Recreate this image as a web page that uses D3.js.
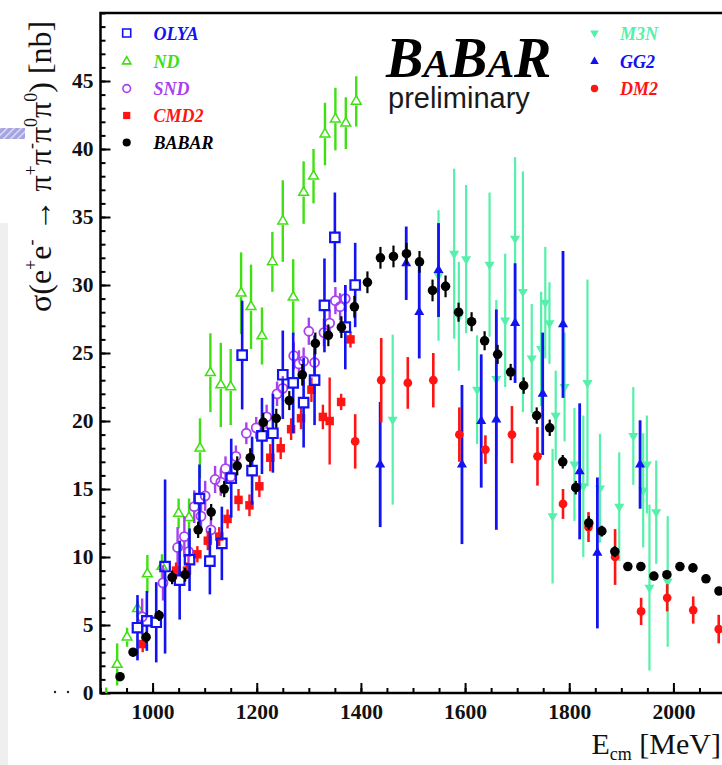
<!DOCTYPE html>
<html><head><meta charset="utf-8">
<script src="https://cdn.jsdelivr.net/npm/d3@7"></script>
<style>html,body{margin:0;padding:0;background:#fff;overflow:hidden}</style>
</head><body>
<svg id="c" width="722" height="765"></svg>
<script>
// e+e- -> pi+ pi- pi0 pi0 cross section measurements, E in MeV, sigma in nb
const babarE = [937.5, 962.5, 987.5, 1012.5, 1037.5, 1062.5, 1087.5, 1112.5, 1137.5, 1162.5, 1187.5, 1212.5, 1237.5, 1262.5, 1287.5, 1312.5, 1337.5, 1362.5, 1387.5, 1412.5, 1437.5, 1462.5, 1487.5, 1512.5, 1537.5, 1562.5, 1587.5, 1612.5, 1637.5, 1662.5, 1687.5, 1712.5, 1737.5, 1762.5, 1787.5, 1812.5, 1837.5, 1862.5, 1887.5, 1912.5, 1937.5, 1962.5, 1987.5, 2012.5, 2037.5, 2062.5, 2087.5];
const babarSigma = [1.2, 3.0, 4.1, 5.7, 8.5, 8.7, 12.0, 13.3, 15.0, 16.7, 17.3, 19.9, 20.2, 21.5, 23.4, 25.7, 26.3, 26.9, 28.4, 30.2, 32.0, 32.1, 32.3, 31.7, 29.6, 29.9, 28.0, 27.3, 25.9, 24.9, 23.6, 22.6, 20.4, 19.5, 17.0, 15.1, 12.5, 11.9, 10.4, 9.3, 9.3, 8.6, 8.7, 9.3, 9.2, 8.4, 7.5];
const babarErr = [0.3, 0.3, 0.4, 0.4, 0.5, 0.5, 0.6, 0.6, 0.6, 0.7, 0.7, 0.7, 0.7, 0.7, 0.8, 0.8, 0.8, 0.8, 0.8, 0.8, 0.8, 0.8, 0.8, 0.8, 0.8, 0.8, 0.7, 0.7, 0.7, 0.7, 0.6, 0.6, 0.6, 0.6, 0.5, 0.5, 0.5, 0.4, 0.4, 0.3, 0.3, 0.3, 0.3, 0.3, 0.3, 0.3, 0.3];

const cmd2E = [981, 1045, 1066, 1086, 1106, 1128, 1144, 1165, 1186, 1205, 1226, 1246, 1266, 1285, 1305, 1327, 1340, 1362, 1380];
const cmd2Sigma = [3.6, 9.0, 9.0, 10.2, 11.2, 11.5, 12.8, 14.2, 13.8, 15.2, 17.3, 18.0, 19.4, 20.2, 22.3, 20.3, 20.0, 21.4, 26.0];
const cmd2Err = [0.6, 0.6, 0.6, 0.6, 0.7, 0.7, 0.7, 0.8, 0.8, 0.8, 1.0, 0.8, 0.8, 0.8, 0.9, 0.9, 3.2, 0.6, 0.6];

const dm2E = [1389, 1439, 1490, 1539, 1589, 1639, 1690, 1739, 1788, 1837, 1888, 1938, 1988, 2038, 2087];
const dm2Sigma = [18.5, 23.0, 22.8, 23.0, 19.0, 17.9, 19.0, 17.4, 13.9, 12.2, 10.0, 6.0, 7.0, 6.1, 4.7];
const dm2Err = [2.0, 3.1, 1.9, 2.0, 2.0, 1.05, 2.1, 2.15, 1.1, 1.1, 2.05, 1.0, 1.0, 1.0, 1.05];

const gg2E = [1437, 1487, 1512, 1549, 1594, 1631, 1660, 1696, 1749, 1788, 1820, 1854, 1936];
const gg2Sigma = [16.8, 31.6, 28.0, 31.1, 16.8, 20.0, 20.1, 27.2, 22.0, 27.1, 16.3, 10.3, 16.8];
const gg2Err = [4.6, 2.7, 3.4, 3.45, 5.85, 4.9, 8.1, 4.4, 4.5, 5.4, 5.0, 5.55, 3.25];

const ndE = [911, 932, 951, 971, 990, 1018, 1050, 1070, 1091, 1111, 1131, 1150, 1170, 1189, 1210, 1230, 1250, 1270, 1290, 1309, 1331, 1351, 1371, 1391];
const ndSigma = [-0.5, 2.1, 4.1, 6.2, 8.75, 9.3, 13.2, 12.9, 18.0, 23.55, 22.65, 22.5, 29.4, 28.4, 26.25, 31.7, 34.7, 29.1, 36.8, 38.0, 41.1, 42.2, 41.9, 43.5];
const ndErr = [0.9, 1.55, 0.7, 0.6, 1.4, 0.9, 1.1, 1.4, 2.2, 2.9, 3.1, 2.8, 3.0, 3.1, 2.1, 2.2, 3.0, 2.8, 2.3, 2.0, 2.3, 2.3, 1.9, 1.85];

const sndE = [980, 1020, 1048, 1061, 1069, 1080, 1093, 1101, 1112, 1120, 1131, 1140, 1150, 1160, 1180, 1199, 1219, 1239, 1250, 1271, 1281, 1290, 1300, 1311, 1329, 1340, 1351, 1360, 1370];
const sndSigma = [5.6, 8.1, 10.7, 11.5, 10.4, 13.7, 13.0, 14.5, 12.0, 15.7, 15.5, 16.5, 15.9, 17.4, 19.1, 19.5, 20.3, 22.0, 22.4, 24.8, 24.2, 24.4, 26.6, 24.3, 26.5, 27.2, 28.85, 28.4, 29.0];
const sndErr = [1.35, 1.3, 1.5, 1.5, 1.0, 1.2, 1.0, 1.1, 1.0, 1.0, 1.0, 0.9, 0.9, 0.8, 0.8, 0.8, 0.9, 0.9, 0.9, 1.0, 1.0, 1.0, 1.0, 1.0, 1.0, 1.0, 1.0, 1.0, 1.0];

const olyaE = [971, 989, 1007, 1024, 1052, 1071, 1090, 1110, 1133, 1151, 1172, 1191, 1210, 1231, 1250, 1270, 1290, 1311, 1330, 1350, 1370, 1389];
const olyaSigma = [4.8, 5.3, 5.2, 9.3, 8.3, 9.8, 14.3, 9.7, 11.0, 15.8, 24.85, 16.35, 18.9, 19.1, 23.4, 22.8, 21.35, 23.0, 28.5, 33.5, 26.9, 30.0];
const olyaErr = [2.4, 2.2, 2.95, 6.4, 2.9, 2.3, 2.5, 2.45, 2.7, 2.9, 4.0, 2.5, 2.8, 2.9, 3.25, 3.7, 3.3, 3.3, 3.45, 3.3, 3.1, 3.1];

const m3nE = [1461, 1549, 1579, 1588, 1602, 1623, 1647, 1660, 1677, 1696, 1711, 1728, 1746, 1754, 1762, 1768, 1774, 1791, 1810, 1827, 1835, 1859, 1896, 1923, 1942, 1949, 1954, 1967, 1989];
const m3nSigma = [20.1, 30.7, 32.3, 27.7, 31.9, 22.3, 31.5, 23.1, 27.4, 33.4, 29.5, 24.6, 25.3, 28.7, 27.2, 13.0, 20.4, 22.5, 16.8, 15.2, 22.8, 15.05, 13.7, 18.9, 14.9, 16.8, 7.75, 13.3, 8.2];
const m3nErr = [6.25, 4.8, 6.25, 4.0, 5.45, 4.0, 5.3, 5.8, 4.9, 6.0, 8.85, 4.0, 4.2, 4.1, 3.0, 4.95, 3.3, 4.0, 4.15, 5.2, 7.6, 4.0, 4.0, 3.6, 4.2, 3.6, 6.1, 3.8, 4.8];

const xMajorTicks = [1000, 1200, 1400, 1600, 1800, 2000];
const yMajorTicks = [0, 5, 10, 15, 20, 25, 30, 35, 40, 45];
const legendLeft = ["OLYA", "ND", "SND", "CMD2", "BABAR"];
const legendRight = ["M3N", "GG2", "DM2"];

const SERIF = "'Liberation Serif','Times New Roman',Times,serif";
const SANS = "'Liberation Sans',Arial,Helvetica,sans-serif";
const BLUE = "#1212f2", GREEN = "#3ee012", PURPLE = "#a840f0", RED = "#ff1414", AQUA = "#55f0aa";

const svg = d3.select("#c");
const x = d3.scaleLinear().domain([900, 2100]).range([100.5, 725.5]);
const y = d3.scaleLinear().domain([0, 50]).range([693, 13]);

// slide decorations at the left margin
const defs = svg.append("defs");
const pat = defs.append("pattern").attr("id", "hatch").attr("patternUnits", "userSpaceOnUse")
  .attr("width", 5).attr("height", 5).attr("patternTransform", "rotate(45)");
pat.append("rect").attr("width", 5).attr("height", 5).attr("fill", "#a4a4e2");
pat.append("rect").attr("width", 1.3).attr("height", 5).attr("fill", "#e4e4f6");
svg.append("rect").attr("x", 0).attr("y", 128).attr("width", 25).attr("height", 11).attr("fill", "url(#hatch)");
svg.append("rect").attr("x", 0).attr("y", 223).attr("width", 8).attr("height", 542).attr("fill", "#efefef");
svg.append("circle").attr("cx", 55).attr("cy", 692).attr("r", 1.2).attr("fill", "#222");
svg.append("circle").attr("cx", 68).attr("cy", 692).attr("r", 1.2).attr("fill", "#222");

defs.append("clipPath").attr("id", "plotClip").append("rect")
  .attr("x", 101).attr("y", 13).attr("width", 625).attr("height", 680);

// axes: ticks drawn inside the frame
const gx = svg.append("g").attr("transform", "translate(0,693)");
gx.call(d3.axisBottom(x).tickValues(d3.range(900, 2101, 50)).tickSize(-5).tickFormat(""));
gx.append("g").call(d3.axisBottom(x).tickValues(xMajorTicks).tickSizeInner(-10).tickSizeOuter(0).tickPadding(11).tickFormat(d3.format("d")));
const gy = svg.append("g").attr("transform", "translate(100.5,0)");
gy.call(d3.axisLeft(y).tickValues(d3.range(0, 51, 1)).tickSize(-5).tickFormat(""));
gy.append("g").call(d3.axisLeft(y).tickValues(yMajorTicks).tickSizeInner(-10).tickSizeOuter(0).tickPadding(7).tickFormat(d3.format("d")));
svg.selectAll(".domain").remove();
svg.selectAll(".tick line").attr("stroke", "#000").attr("stroke-width", 2);
svg.selectAll(".tick text").attr("font-family", SERIF).attr("font-weight", "bold")
  .attr("font-size", 21.5).attr("fill", "#111");

// frame
svg.append("path")
  .attr("d", `M${x(2100) + 2},${y(50)} H${x(900)} V${y(0)} H${x(2100) + 2}`)
  .attr("fill", "none").attr("stroke", "#000").attr("stroke-width", 2.5);

// axis titles
const xt = svg.append("text").attr("x", 721).attr("y", 754).attr("text-anchor", "end")
  .attr("font-family", SERIF).attr("font-size", 30).attr("fill", "#111");
xt.append("tspan").text("E");
xt.append("tspan").attr("font-size", 18).attr("dy", 6).text("cm");
xt.append("tspan").attr("dy", -6).text(" [MeV]");

const yt = svg.append("text").attr("transform", "translate(51,312) rotate(-90)")
  .attr("font-family", SERIF).attr("font-size", 32).attr("fill", "#111");
const yParts = [["σ(e", 0], ["+", 1], ["e", 0], ["-", 1], [" → ", 0], ["π", 0], ["+", 1], ["π", 0], ["-", 1],
  ["π", 0], ["0", 1], ["π", 0], ["0", 1], [") [nb]", 0]];
let up = false;
yParts.forEach(([t, sup]) => {
  const ts = yt.append("tspan").text(t);
  if (sup && !up) { ts.attr("dy", -14).attr("font-size", 18); up = true; }
  else if (sup) { ts.attr("font-size", 18); }
  else if (up) { ts.attr("dy", 14); up = false; }
});

// data layer
const plot = svg.append("g").attr("clip-path", "url(#plotClip)");

function series(E, S, Er, opt) {
  const data = E.map((e, i) => ({ e, s: S[i], err: Er[i] }));
  const g = plot.append("g");
  const gap = opt.open ? opt.half : 0;
  g.selectAll("line.up").data(data).join("line")
    .attr("x1", d => x(d.e)).attr("x2", d => x(d.e))
    .attr("y1", d => y(d.s) - gap).attr("y2", d => y(d.s + d.err))
    .attr("stroke", opt.color).attr("stroke-width", opt.lw);
  g.selectAll("line.dn").data(data).join("line")
    .attr("x1", d => x(d.e)).attr("x2", d => x(d.e))
    .attr("y1", d => y(d.s) + gap).attr("y2", d => y(d.s - d.err))
    .attr("stroke", opt.color).attr("stroke-width", opt.lw);
  g.selectAll("path.m").data(data).join("path")
    .attr("d", d3.symbol(opt.type, opt.size))
    .attr("transform", d => `translate(${x(d.e)},${y(d.s)})` + (opt.flip ? " rotate(180)" : ""))
    .attr("fill", opt.open ? "none" : opt.color)
    .attr("stroke", opt.open ? opt.color : "none")
    .attr("stroke-width", opt.open ? opt.sw : 0);
}

const styles = {
  OLYA: { type: d3.symbolSquare, size: 90, color: BLUE, open: true, half: 5, sw: 2.2, lw: 2.6 },
  ND: { type: d3.symbolTriangle, size: 42, color: GREEN, open: true, half: 4, sw: 1.5, lw: 2.4 },
  SND: { type: d3.symbolCircle, size: 64, color: PURPLE, open: true, half: 4.5, sw: 1.8, lw: 2.4 },
  CMD2: { type: d3.symbolSquare, size: 72, color: RED, open: false, lw: 2.4 },
  BABAR: { type: d3.symbolCircle, size: 72, color: "#000", open: false, lw: 2.2 },
  M3N: { type: d3.symbolTriangle, size: 44, color: AQUA, open: false, flip: true, lw: 2.2 },
  GG2: { type: d3.symbolTriangle, size: 44, color: BLUE, open: false, lw: 2.8 },
  DM2: { type: d3.symbolCircle, size: 60, color: RED, open: false, lw: 2.6 }
};

series(m3nE, m3nSigma, m3nErr, styles.M3N);
series(gg2E, gg2Sigma, gg2Err, styles.GG2);
series(dm2E, dm2Sigma, dm2Err, styles.DM2);
series(ndE, ndSigma, ndErr, styles.ND);
series(sndE, sndSigma, sndErr, styles.SND);
series(cmd2E, cmd2Sigma, cmd2Err, styles.CMD2);
series(olyaE, olyaSigma, olyaErr, styles.OLYA);
series(babarE, babarSigma, babarErr, styles.BABAR);

// legends
function legend(names, mx, tx, rows) {
  names.forEach((n, i) => {
    const st = styles[n];
    const s = st.size * 0.72;
    svg.append("path").attr("d", d3.symbol(st.type, s))
      .attr("transform", `translate(${mx},${rows[i]})` + (st.flip ? " rotate(180)" : ""))
      .attr("fill", st.open ? "none" : st.color)
      .attr("stroke", st.open ? st.color : "none").attr("stroke-width", st.open ? 1.6 : 0);
    svg.append("text").attr("x", tx).attr("y", rows[i] + 6.5)
      .attr("font-family", SERIF).attr("font-weight", "bold").attr("font-style", "italic")
      .attr("font-size", 18).attr("fill", st.color).text(n);
  });
}
legend(legendLeft, 126.7, 153.5, [33, 61.5, 88.5, 115.5, 142.5]);
legend(legendRight, 594.5, 620, [33, 61.5, 88.5]);

// experiment logo
const logo = svg.append("text").attr("x", 386).attr("y", 77)
  .attr("font-family", SERIF).attr("font-weight", "bold").attr("font-style", "italic")
  .attr("font-size", 56).attr("fill", "#000");
logo.append("tspan").text("B");
logo.append("tspan").attr("font-size", 40).text("A");
logo.append("tspan").text("B");
logo.append("tspan").attr("font-size", 40).text("A");
logo.append("tspan").text("R");
svg.append("text").attr("x", 388).attr("y", 108)
  .attr("font-family", SANS).attr("font-size", 29).attr("fill", "#1a1a1a").text("preliminary");
</script>
</body></html>
